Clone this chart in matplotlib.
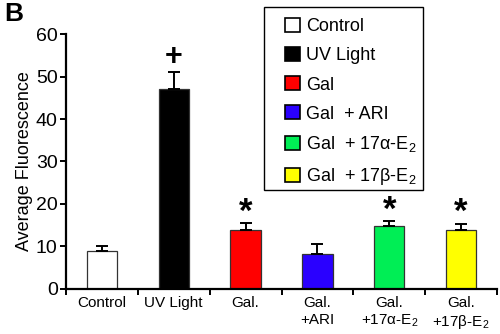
import matplotlib
matplotlib.use("Agg")
import matplotlib.pyplot as plt
from matplotlib.patches import Patch, Rectangle

plt.rcParams['font.family'] = ['Liberation Sans', 'DejaVu Sans']
plt.rcParams['mathtext.fontset'] = 'custom'
plt.rcParams['mathtext.rm'] = 'Liberation Sans'
plt.rcParams['mathtext.it'] = 'Liberation Sans'

# Data
categories = ["Control", "UV Light", "Gal.", "Gal.\n+ARI",
              "Gal.\n+17α-E$\\mathregular{_2}$", "Gal.\n+17β-E$\\mathregular{_2}$"]
legend_labels = ["Control", "UV Light", "Gal", "Gal  + ARI",
                 "Gal  + 17α-E$\\mathregular{_2}$", "Gal  + 17β-E$\\mathregular{_2}$"]
means = [8.9, 47.1, 13.9, 8.2, 14.7, 13.9]
errors = [1.2, 4.0, 1.6, 2.4, 1.3, 1.5]
marks = ["", "+", "*", "", "*", "*"]
colors = ["#ffffff", "#000000", "#ff0000", "#2a00ff", "#00ee55", "#ffff00"]

W, H = 500, 334
fig = plt.figure(figsize=(W / 100, H / 100), dpi=100)
ax = fig.add_axes([0.132, 0.135, 0.862, 0.763])

x = list(range(len(categories)))
ax.bar(x, means, width=0.42, color=colors, edgecolor="#333333", linewidth=0.9,
       zorder=2)
ax.errorbar(x, means, yerr=[[0] * len(errors), errors], fmt="none",
            ecolor="black", elinewidth=1.4, capsize=4.5, capthick=1.4, zorder=3)

for xi, m, e, mk in zip(x, means, errors, marks):
    if not mk:
        continue
    if mk == "+":
        ax.text(xi, m + e + 3.4, mk, ha="center", va="center",
                fontsize=22, fontweight="bold")
    else:
        ax.text(xi, m + e + 2.6, mk, ha="center", va="center",
                fontsize=25, fontweight="bold")

ax.set_xlim(-0.5, 5.5)
ax.set_ylim(0, 60)
ax.set_yticks(range(0, 61, 10))
ax.tick_params(axis="y", labelsize=14, width=1.4, length=4, pad=2)
ax.set_xticks(x)
ax.set_xticklabels(categories, fontsize=11)
ax.tick_params(axis="x", length=0, pad=5)
ax.set_xticks([i - 0.5 for i in range(len(categories) + 1)], minor=True)
ax.tick_params(axis="x", which="minor", length=4, width=1.4)
for lbl in ax.get_xticklabels():
    lbl.set_linespacing(1.25)

ax.spines["top"].set_visible(False)
ax.spines["right"].set_visible(False)
ax.spines["left"].set_linewidth(1.6)
ax.spines["bottom"].set_linewidth(1.6)

ax.set_ylabel("Average Fluorescence", fontsize=13, labelpad=2)

# Legend entries, with a plain rectangular box drawn around them
handles = [Patch(facecolor=c, edgecolor="black", linewidth=1.2) for c in colors]
leg = fig.legend(handles, legend_labels, loc="upper left",
                 bbox_to_anchor=(285 / W, 1 - 18 / H),
                 bbox_transform=fig.transFigure, fontsize=13, frameon=False,
                 labelspacing=0.65, handlelength=0.83, handleheight=0.83,
                 handletextpad=0.33, borderpad=0, borderaxespad=0)
fig.add_artist(Rectangle((264 / W, 1 - 190 / H), (423 - 264) / W, (190 - 7) / H,
                         transform=fig.transFigure, facecolor="white",
                         edgecolor="black", linewidth=1.0, zorder=1))
leg.set_zorder(2)

fig.text(0.008, 0.995, "B", fontsize=19, fontweight="bold", va="top", ha="left")

fig.savefig("out.png", dpi=100)
